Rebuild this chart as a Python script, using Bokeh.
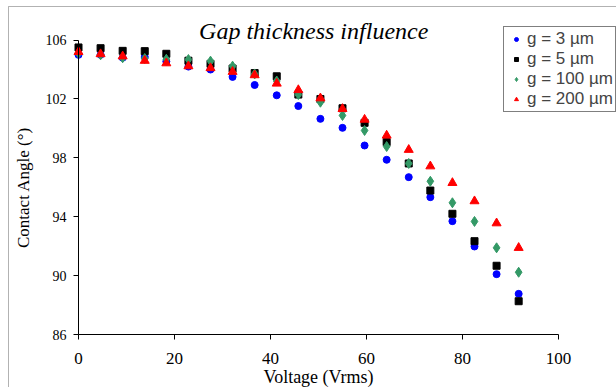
from bokeh.plotting import figure
from bokeh.models import Range1d, Label, Legend, LegendItem, BoxAnnotation, FixedTicker
from bokeh.embed import file_html
from bokeh.resources import INLINE

voltage = [0, 4.6, 9.2, 13.8, 18.3, 22.9, 27.5, 32.1, 36.7, 41.3, 45.8,
           50.4, 55.0, 59.6, 64.2, 68.8, 73.3, 77.9, 82.5, 87.1, 91.7]
angle_3um = [105.0, 105.0, 104.8, 104.85, 104.55, 104.2, 104.0, 103.5, 102.95, 102.25, 101.52,
             100.65, 100.04, 98.84, 97.87, 96.69, 95.33, 93.7, 91.98, 90.1, 88.76]
angle_5um = [105.5, 105.45, 105.27, 105.25, 105.07, 104.6, 104.39, 104.07, 103.76, 103.54, 102.3,
             102.0, 101.37, 100.38, 99.07, 97.62, 95.78, 94.2, 92.34, 90.67, 88.26]
angle_100um = [105.1, 105.0, 104.8, 104.75, 104.7, 104.68, 104.57, 104.23, 103.7, 103.22, 102.3,
               101.78, 100.88, 99.86, 98.77, 97.62, 96.41, 94.95, 93.68, 91.89, 90.23]
angle_200um = [105.2, 105.05, 104.9, 104.6, 104.43, 104.23, 104.1, 103.85, 103.62, 103.05, 102.61,
               102.05, 101.33, 100.6, 99.52, 98.55, 97.43, 96.3, 95.06, 93.56, 91.89]
x_ticks = [0, 20, 40, 60, 80, 100]
y_ticks = [86, 90, 94, 98, 102, 106]
labels = ["g = 3 µm", "g = 5 µm", "g = 100 µm", "g = 200 µm"]

# frame fills the whole canvas; axes sit at fixed data positions
W, H = 616, 387
x0_px, x1_px = 78, 558      # pixel of x=0 and x=100
y0_px, y1_px = 334, 39.6    # pixel of y=86 and y=106
sx = (x1_px - x0_px) / 100.0
sy = (y0_px - y1_px) / 20.0

p = figure(width=W, height=H, output_backend="svg", toolbar_location=None,
           x_range=Range1d(0 - x0_px / sx, 100 + (W - x1_px) / sx),
           y_range=Range1d(86 - (H - y0_px) / sy, 106 + y1_px / sy),
           min_border=0, min_border_left=0, min_border_right=0,
           min_border_top=0, min_border_bottom=0)
p.outline_line_color = None
p.xgrid.grid_line_color = None
p.ygrid.grid_line_color = None
p.background_fill_color = "white"
p.border_fill_color = "white"

serif = "Liberation Serif"
for ax in (p.xaxis[0], p.yaxis[0]):
    ax.axis_line_color = "black"
    ax.major_tick_line_color = "black"
    ax.minor_tick_line_color = None
    ax.major_tick_in = 0
    ax.major_tick_out = 5
    ax.major_label_text_font = serif
    ax.major_label_text_color = "black"
    ax.axis_label_text_font = serif
    ax.axis_label_text_font_style = "normal"
    ax.axis_label_text_color = "black"

p.xaxis.fixed_location = 86
p.yaxis.fixed_location = 0
p.xaxis.bounds = (0, 100)
p.yaxis.bounds = (86, 106)
p.xaxis.ticker = FixedTicker(ticks=x_ticks)
p.yaxis.ticker = FixedTicker(ticks=y_ticks)
p.xaxis.axis_label = "Voltage (Vrms)"
p.yaxis.axis_label = "Contact Angle (°)"
p.xaxis.major_label_text_font_size = "17px"
p.yaxis.major_label_text_font_size = "14px"
p.xaxis.axis_label_text_font_size = "18px"
p.yaxis.axis_label_text_font_size = "17px"
p.xaxis.major_label_standoff = 13
p.yaxis.major_label_standoff = 7
p.xaxis.axis_label_standoff = 0
p.yaxis.axis_label_standoff = 10

frame = BoxAnnotation(left=8, right=W + 20, top=6, bottom=H + 20,
                      left_units="canvas", right_units="canvas",
                      top_units="canvas", bottom_units="canvas",
                      fill_alpha=0, line_color="black", line_width=1)
p.add_layout(frame)

r1 = p.scatter(voltage, angle_3um, marker="circle", size=7, color="#0000FF")
r2 = p.scatter(voltage, angle_5um, marker="square", size=7, color="black")
r3 = p.scatter(voltage, angle_100um, marker="diamond", size=10, color="#339966")
r4 = p.scatter(voltage, angle_200um, marker="triangle", size=9, color="#FF0000")

legend = Legend(items=[LegendItem(label=labels[0], renderers=[r1]),
                       LegendItem(label=labels[1], renderers=[r2]),
                       LegendItem(label=labels[2], renderers=[r3]),
                       LegendItem(label=labels[3], renderers=[r4])],
                location=(503, H - 112))
legend.label_text_font = "Liberation Sans"
legend.label_text_font_size = "17px"
legend.label_height = 19
legend.glyph_height = 10
legend.glyph_width = 20
legend.label_standoff = 1
legend.spacing = 0
legend.padding = 2
legend.margin = 0
legend.border_line_color = "black"
legend.border_line_width = 1
legend.background_fill_color = "white"
legend.background_fill_alpha = 1
p.add_layout(legend, "center")

title = Label(x=49, y=106.65, text="Gap thickness influence", text_font=serif,
              text_font_style="italic", text_font_size="24px", text_align="center",
              text_baseline="alphabetic", text_color="black")
p.add_layout(title)

open("out.html", "w").write(file_html(p, INLINE))
